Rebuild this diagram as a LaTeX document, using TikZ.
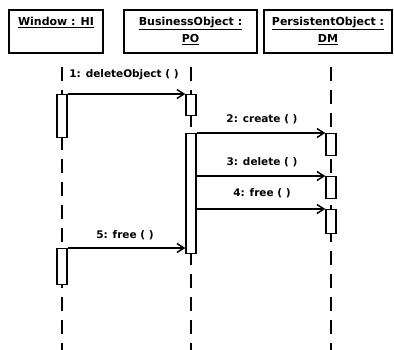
\documentclass[tikz,border=0pt]{standalone}
\usepackage{fontspec}
\setmainfont{DejaVu Sans}
\usetikzlibrary{arrows.meta}
\begin{document}
\begin{tikzpicture}[x=1pt,y=-1pt,
  hdr/.style={draw,line width=1.5pt,rectangle,inner sep=0pt},
  hdrtext/.style={anchor=north,inner sep=0pt,align=center,font=\bfseries\fontsize{11}{17}\selectfont},
  actbar/.style={draw,line width=1.4pt,fill=white,rectangle,inner sep=0pt,minimum width=10pt},
  lifeline/.style={line width=1.5pt,dash pattern=on 14pt off 9pt},
  msg/.style={line width=1.5pt,-{Straight Barb[length=7pt,width=9pt,line width=1.5pt]}},
  lbl/.style={inner sep=0pt,font=\bfseries\fontsize{10.5}{12}\selectfont}]
\useasboundingbox (0,0) rectangle (394,349);
% header boxes
\node[hdr,minimum width=94pt,minimum height=43pt] (hw) at (56,31.5) {};
\node[hdr,minimum width=133pt,minimum height=43pt] (hb) at (190.5,31.5) {};
\node[hdr,minimum width=128pt,minimum height=43pt] (hp) at (328,31.5) {};
\node[hdrtext] (tw) at ([yshift=-8pt]hw.north) {\underline{Window : HI}};
\node[hdrtext] (tb) at ([yshift=-8pt]hb.north) {\underline{BusinessObject :}\\\underline{PO}};
\node[hdrtext] (tp) at ([yshift=-8pt]hp.north) {\underline{PersistentObject :}\\\underline{DM}};
% lifeline ends
\coordinate (wtop) at (62,67); \coordinate (wbot) at (62,352);
\coordinate (btop) at (191,67); \coordinate (bbot) at (191,352);
\coordinate (ptop) at (331,67); \coordinate (pbot) at (331,352);
\draw[lifeline] (wtop) -- (wbot);
\draw[lifeline] (btop) -- (bbot);
\draw[lifeline] (ptop) -- (pbot);
% activation bars
\node[actbar,minimum height=43pt,anchor=north] (w1) at (62,94) {};
\node[actbar,minimum height=36pt,anchor=north] (w2) at (62,248) {};
\node[actbar,minimum height=21pt,anchor=north] (b1) at (191,94) {};
\node[actbar,minimum height=120pt,anchor=north] (b2) at (191,133) {};
\node[actbar,minimum height=22pt,anchor=north] (p1) at (331,133) {};
\node[actbar,minimum height=22pt,anchor=north] (p2) at (331,176) {};
\node[actbar,minimum height=24pt,anchor=north] (p3) at (331,209) {};
% messages
\draw[msg] (w1.north east) -- (b1.north west);
\draw[msg] (b2.north east) -- (p1.north west);
\draw[msg] (b2.east |- p2.north) -- (p2.north west);
\draw[msg] (b2.east |- p3.north) -- (p3.north west);
\draw[msg] (w2.north east) -- (w2.north east -| b2.west);
% labels
\node[lbl] (l1) at (124,75) {1: deleteObject ( )};
\node[lbl] (l2) at (262,119) {2: create ( )};
\node[lbl] (l3) at (262,162) {3: delete ( )};
\node[lbl] (l4) at (262,193) {4: free ( )};
\node[lbl] (l5) at (125,235) {5: free ( )};
\end{tikzpicture}
\end{document}
